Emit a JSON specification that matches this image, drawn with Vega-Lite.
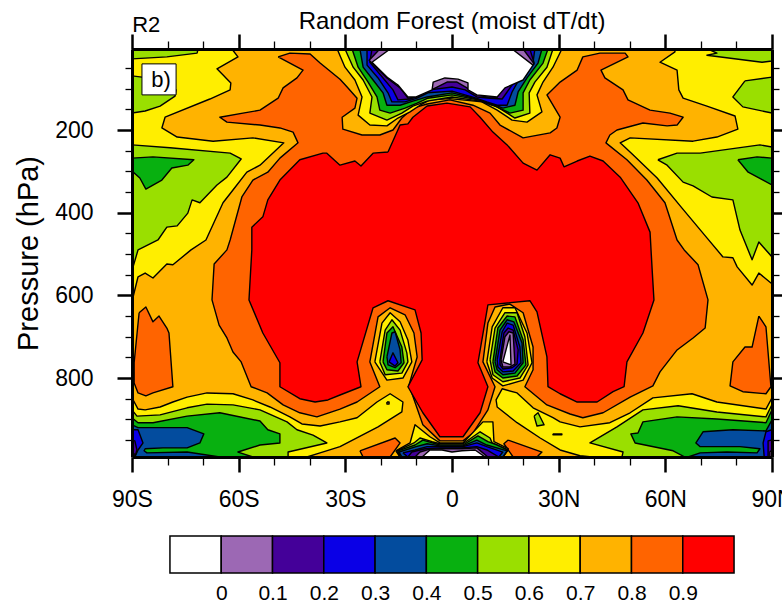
{"$schema":"https://vega.github.io/schema/vega-lite/v6.json","padding":{"left":14,"top":10,"right":0,"bottom":0},"config":{"view":{"stroke":null},"font":"Liberation Sans"},"bounds":"flush","spacing":79,"vconcat":[{"width":640,"height":408,"title":{"text":"Random Forest (moist dT/dt)","fontSize":24,"fontWeight":"normal","anchor":"middle","offset":-20},"resolve":{"axis":{"x":"independent","y":"independent"}},"layer":[{"data":{"values":[
{"g":1,"v":0.75,"lat":-90,"p":4},{"g":1,"v":0.75,"lat":90,"p":4},{"g":1,"v":0.75,"lat":90,"p":991},{"g":1,"v":0.75,"lat":-90,"p":991},
{"g":2,"v":0.85,"lat":-48.9,"p":23},{"g":2,"v":0.85,"lat":-45.6,"p":14},{"g":2,"v":0.85,"lat":-39.9,"p":16},{"g":2,"v":0.85,"lat":-37.1,"p":38},{"g":2,"v":0.85,"lat":-31.5,"p":77},{"g":2,"v":0.85,"lat":-29.5,"p":96},{"g":2,"v":0.85,"lat":-26.7,"p":123},{"g":2,"v":0.85,"lat":-27.3,"p":147},{"g":2,"v":0.85,"lat":-30.9,"p":169},{"g":2,"v":0.85,"lat":-30.7,"p":198},{"g":2,"v":0.85,"lat":-25.3,"p":212},{"g":2,"v":0.85,"lat":-20.3,"p":212},{"g":2,"v":0.85,"lat":-16.6,"p":200},{"g":2,"v":0.85,"lat":-14.1,"p":171},{"g":2,"v":0.85,"lat":-11,"p":147},{"g":2,"v":0.85,"lat":-7,"p":137},{"g":2,"v":0.85,"lat":-0.6,"p":127},{"g":2,"v":0.85,"lat":5.9,"p":140},{"g":2,"v":0.85,"lat":10.7,"p":159},{"g":2,"v":0.85,"lat":13.5,"p":188},{"g":2,"v":0.85,"lat":20,"p":219},{"g":2,"v":0.85,"lat":27.6,"p":207},{"g":2,"v":0.85,"lat":29.5,"p":195},{"g":2,"v":0.85,"lat":30.4,"p":169},{"g":2,"v":0.85,"lat":26.7,"p":115},{"g":2,"v":0.85,"lat":30.4,"p":84},{"g":2,"v":0.85,"lat":35.2,"p":55},{"g":2,"v":0.85,"lat":36.8,"p":23},{"g":2,"v":0.85,"lat":41.6,"p":14},{"g":2,"v":0.85,"lat":48.7,"p":14},{"g":2,"v":0.85,"lat":49.5,"p":23},{"g":2,"v":0.85,"lat":41.9,"p":55},{"g":2,"v":0.85,"lat":43,"p":74},{"g":2,"v":0.85,"lat":48.1,"p":103},{"g":2,"v":0.85,"lat":49.5,"p":127},{"g":2,"v":0.85,"lat":55.7,"p":152},{"g":2,"v":0.85,"lat":61.3,"p":159},{"g":2,"v":0.85,"lat":65,"p":169},{"g":2,"v":0.85,"lat":63.3,"p":188},{"g":2,"v":0.85,"lat":60.5,"p":190},{"g":2,"v":0.85,"lat":53.7,"p":183},{"g":2,"v":0.85,"lat":46.4,"p":200},{"g":2,"v":0.85,"lat":44.4,"p":212},{"g":2,"v":0.85,"lat":43.3,"p":231},{"g":2,"v":0.85,"lat":49.2,"p":272},{"g":2,"v":0.85,"lat":54.8,"p":321},{"g":2,"v":0.85,"lat":59.9,"p":376},{"g":2,"v":0.85,"lat":63.3,"p":466},{"g":2,"v":0.85,"lat":65.3,"p":490},{"g":2,"v":0.85,"lat":69.2,"p":526},{"g":2,"v":0.85,"lat":72,"p":611},{"g":2,"v":0.85,"lat":71.2,"p":679},{"g":2,"v":0.85,"lat":67.8,"p":703},{"g":2,"v":0.85,"lat":63.3,"p":732},{"g":2,"v":0.85,"lat":58.5,"p":785},{"g":2,"v":0.85,"lat":56.5,"p":819},{"g":2,"v":0.85,"lat":50.1,"p":846},{"g":2,"v":0.85,"lat":42.5,"p":884},{"g":2,"v":0.85,"lat":36.8,"p":896},{"g":2,"v":0.85,"lat":33.2,"p":887},{"g":2,"v":0.85,"lat":26.7,"p":865},{"g":2,"v":0.85,"lat":20.5,"p":821},{"g":2,"v":0.85,"lat":22.8,"p":780},{"g":2,"v":0.85,"lat":22.8,"p":725},{"g":2,"v":0.85,"lat":20,"p":642},{"g":2,"v":0.85,"lat":16.3,"p":621},{"g":2,"v":0.85,"lat":12.1,"p":628},{"g":2,"v":0.85,"lat":10.1,"p":667},{"g":2,"v":0.85,"lat":8.7,"p":761},{"g":2,"v":0.85,"lat":12.1,"p":821},{"g":2,"v":0.85,"lat":10.1,"p":877},{"g":2,"v":0.85,"lat":5.9,"p":933},{"g":2,"v":0.85,"lat":3.1,"p":952},{"g":2,"v":0.85,"lat":-3.4,"p":952},{"g":2,"v":0.85,"lat":-8.2,"p":913},{"g":2,"v":0.85,"lat":-12.1,"p":817},{"g":2,"v":0.85,"lat":-9.8,"p":749},{"g":2,"v":0.85,"lat":-10.7,"p":691},{"g":2,"v":0.85,"lat":-13.2,"p":647},{"g":2,"v":0.85,"lat":-17.4,"p":630},{"g":2,"v":0.85,"lat":-20.8,"p":652},{"g":2,"v":0.85,"lat":-23.1,"p":761},{"g":2,"v":0.85,"lat":-20.3,"p":821},{"g":2,"v":0.85,"lat":-26.7,"p":858},{"g":2,"v":0.85,"lat":-31.5,"p":875},{"g":2,"v":0.85,"lat":-38,"p":894},{"g":2,"v":0.85,"lat":-42.8,"p":884},{"g":2,"v":0.85,"lat":-47.5,"p":865},{"g":2,"v":0.85,"lat":-52,"p":836},{"g":2,"v":0.85,"lat":-56.5,"p":821},{"g":2,"v":0.85,"lat":-59.3,"p":761},{"g":2,"v":0.85,"lat":-61.6,"p":737},{"g":2,"v":0.85,"lat":-63.3,"p":703},{"g":2,"v":0.85,"lat":-65.5,"p":672},{"g":2,"v":0.85,"lat":-67.5,"p":611},{"g":2,"v":0.85,"lat":-66.9,"p":524},{"g":2,"v":0.85,"lat":-63.3,"p":490},{"g":2,"v":0.85,"lat":-62.4,"p":466},{"g":2,"v":0.85,"lat":-59.1,"p":362},{"g":2,"v":0.85,"lat":-56,"p":321},{"g":2,"v":0.85,"lat":-51.8,"p":302},{"g":2,"v":0.85,"lat":-48.4,"p":268},{"g":2,"v":0.85,"lat":-43.3,"p":231},{"g":2,"v":0.85,"lat":-44.7,"p":205},{"g":2,"v":0.85,"lat":-48.4,"p":195},{"g":2,"v":0.85,"lat":-54,"p":188},{"g":2,"v":0.85,"lat":-63.3,"p":181},{"g":2,"v":0.85,"lat":-65.3,"p":169},{"g":2,"v":0.85,"lat":-58.8,"p":159},{"g":2,"v":0.85,"lat":-54,"p":152},{"g":2,"v":0.85,"lat":-48.9,"p":123},{"g":2,"v":0.85,"lat":-47.5,"p":98},{"g":2,"v":0.85,"lat":-43.6,"p":74},{"g":2,"v":0.85,"lat":-41.9,"p":55},{"g":2,"v":0.85,"lat":-48.9,"p":23},
{"g":3,"v":0.95,"lat":-18,"p":253},{"g":3,"v":0.95,"lat":-14.6,"p":188},{"g":3,"v":0.95,"lat":-12.4,"p":185},{"g":3,"v":0.95,"lat":-11,"p":169},{"g":3,"v":0.95,"lat":-7,"p":142},{"g":3,"v":0.95,"lat":-1.4,"p":135},{"g":3,"v":0.95,"lat":5.1,"p":144},{"g":3,"v":0.95,"lat":7.9,"p":169},{"g":3,"v":0.95,"lat":11.5,"p":205},{"g":3,"v":0.95,"lat":15.5,"p":236},{"g":3,"v":0.95,"lat":20,"p":280},{"g":3,"v":0.95,"lat":23.9,"p":297},{"g":3,"v":0.95,"lat":27.6,"p":260},{"g":3,"v":0.95,"lat":30.4,"p":268},{"g":3,"v":0.95,"lat":31.5,"p":289},{"g":3,"v":0.95,"lat":35.2,"p":275},{"g":3,"v":0.95,"lat":38.8,"p":263},{"g":3,"v":0.95,"lat":42.5,"p":275},{"g":3,"v":0.95,"lat":47.3,"p":314},{"g":3,"v":0.95,"lat":52.3,"p":376},{"g":3,"v":0.95,"lat":55.7,"p":447},{"g":3,"v":0.95,"lat":56.3,"p":539},{"g":3,"v":0.95,"lat":56.8,"p":611},{"g":3,"v":0.95,"lat":53.7,"p":691},{"g":3,"v":0.95,"lat":49.2,"p":761},{"g":3,"v":0.95,"lat":48.4,"p":821},{"g":3,"v":0.95,"lat":45.3,"p":833},{"g":3,"v":0.95,"lat":40.8,"p":858},{"g":3,"v":0.95,"lat":35.2,"p":858},{"g":3,"v":0.95,"lat":30.4,"p":838},{"g":3,"v":0.95,"lat":27,"p":821},{"g":3,"v":0.95,"lat":26.7,"p":749},{"g":3,"v":0.95,"lat":23.9,"p":640},{"g":3,"v":0.95,"lat":21.9,"p":613},{"g":3,"v":0.95,"lat":10.1,"p":623},{"g":3,"v":0.95,"lat":7.3,"p":763},{"g":3,"v":0.95,"lat":10.1,"p":821},{"g":3,"v":0.95,"lat":7.9,"p":884},{"g":3,"v":0.95,"lat":3.1,"p":942},{"g":3,"v":0.95,"lat":-3.4,"p":942},{"g":3,"v":0.95,"lat":-8.2,"p":884},{"g":3,"v":0.95,"lat":-12.4,"p":821},{"g":3,"v":0.95,"lat":-8.4,"p":756},{"g":3,"v":0.95,"lat":-8.7,"p":691},{"g":3,"v":0.95,"lat":-10.4,"p":635},{"g":3,"v":0.95,"lat":-18,"p":613},{"g":3,"v":0.95,"lat":-22.2,"p":630},{"g":3,"v":0.95,"lat":-26.7,"p":761},{"g":3,"v":0.95,"lat":-25.6,"p":821},{"g":3,"v":0.95,"lat":-31.5,"p":841},{"g":3,"v":0.95,"lat":-34.9,"p":853},{"g":3,"v":0.95,"lat":-38.5,"p":858},{"g":3,"v":0.95,"lat":-42.8,"p":850},{"g":3,"v":0.95,"lat":-48.4,"p":821},{"g":3,"v":0.95,"lat":-48.4,"p":763},{"g":3,"v":0.95,"lat":-53.2,"p":691},{"g":3,"v":0.95,"lat":-57.1,"p":611},{"g":3,"v":0.95,"lat":-56.3,"p":490},{"g":3,"v":0.95,"lat":-56.3,"p":435},{"g":3,"v":0.95,"lat":-53.2,"p":410},{"g":3,"v":0.95,"lat":-51.8,"p":369},{"g":3,"v":0.95,"lat":-48.4,"p":321},{"g":3,"v":0.95,"lat":-42.8,"p":272},{"g":3,"v":0.95,"lat":-36.3,"p":256},{"g":3,"v":0.95,"lat":-35.2,"p":256},{"g":3,"v":0.95,"lat":-31.5,"p":285},{"g":3,"v":0.95,"lat":-27.3,"p":275},{"g":3,"v":0.95,"lat":-25.6,"p":287},{"g":3,"v":0.95,"lat":-22.2,"p":256},{"g":3,"v":0.95,"lat":-18,"p":253},
{"g":4,"v":0.65,"lat":-90,"p":4},{"g":4,"v":0.65,"lat":-61.9,"p":4},{"g":4,"v":0.65,"lat":-60.2,"p":23},{"g":4,"v":0.65,"lat":-66.1,"p":52},{"g":4,"v":0.65,"lat":-62.2,"p":86},{"g":4,"v":0.65,"lat":-62.4,"p":103},{"g":4,"v":0.65,"lat":-68.1,"p":125},{"g":4,"v":0.65,"lat":-80.7,"p":169},{"g":4,"v":0.65,"lat":-81.6,"p":195},{"g":4,"v":0.65,"lat":-77.3,"p":217},{"g":4,"v":0.65,"lat":-67.2,"p":227},{"g":4,"v":0.65,"lat":-56,"p":219},{"g":4,"v":0.65,"lat":-47.3,"p":231},{"g":4,"v":0.65,"lat":-54,"p":285},{"g":4,"v":0.65,"lat":-57.7,"p":302},{"g":4,"v":0.65,"lat":-61.6,"p":345},{"g":4,"v":0.65,"lat":-64.4,"p":376},{"g":4,"v":0.65,"lat":-69.2,"p":466},{"g":4,"v":0.65,"lat":-73.4,"p":490},{"g":4,"v":0.65,"lat":-78.5,"p":526},{"g":4,"v":0.65,"lat":-80.2,"p":524},{"g":4,"v":0.65,"lat":-84.1,"p":558},{"g":4,"v":0.65,"lat":-86.3,"p":546},{"g":4,"v":0.65,"lat":-88.3,"p":555},{"g":4,"v":0.65,"lat":-89.7,"p":604},{"g":4,"v":0.65,"lat":-90,"p":604},
{"g":5,"v":0.55,"lat":-90,"p":4},{"g":5,"v":0.55,"lat":-71.4,"p":4},{"g":5,"v":0.55,"lat":-71.7,"p":14},{"g":5,"v":0.55,"lat":-80.2,"p":23},{"g":5,"v":0.55,"lat":-90,"p":28},
{"g":6,"v":0.55,"lat":-90,"p":69},{"g":6,"v":0.55,"lat":-87.2,"p":72},{"g":6,"v":0.55,"lat":-77.6,"p":103},{"g":6,"v":0.55,"lat":-77.9,"p":118},{"g":6,"v":0.55,"lat":-82.1,"p":142},{"g":6,"v":0.55,"lat":-86.3,"p":154},{"g":6,"v":0.55,"lat":-90,"p":159},
{"g":7,"v":0.55,"lat":-90,"p":236},{"g":7,"v":0.55,"lat":-79.3,"p":243},{"g":7,"v":0.55,"lat":-62.4,"p":256},{"g":7,"v":0.55,"lat":-59.3,"p":270},{"g":7,"v":0.55,"lat":-63.3,"p":314},{"g":7,"v":0.55,"lat":-66.1,"p":333},{"g":7,"v":0.55,"lat":-70.9,"p":376},{"g":7,"v":0.55,"lat":-73.1,"p":369},{"g":7,"v":0.55,"lat":-74.3,"p":401},{"g":7,"v":0.55,"lat":-77.3,"p":432},{"g":7,"v":0.55,"lat":-80.2,"p":435},{"g":7,"v":0.55,"lat":-82.7,"p":466},{"g":7,"v":0.55,"lat":-88.3,"p":490},{"g":7,"v":0.55,"lat":-89.7,"p":531},{"g":7,"v":0.55,"lat":-90,"p":531},
{"g":8,"v":0.45,"lat":-90,"p":268},{"g":8,"v":0.45,"lat":-84.1,"p":265},{"g":8,"v":0.45,"lat":-72.6,"p":272},{"g":8,"v":0.45,"lat":-74.3,"p":285},{"g":8,"v":0.45,"lat":-78.8,"p":292},{"g":8,"v":0.45,"lat":-81.6,"p":321},{"g":8,"v":0.45,"lat":-86.1,"p":343},{"g":8,"v":0.45,"lat":-87.8,"p":316},{"g":8,"v":0.45,"lat":-90,"p":299},
{"g":9,"v":0.65,"lat":90,"p":4},{"g":9,"v":0.65,"lat":62.7,"p":4},{"g":9,"v":0.65,"lat":62.7,"p":11},{"g":9,"v":0.65,"lat":58.5,"p":36},{"g":9,"v":0.65,"lat":63.3,"p":55},{"g":9,"v":0.65,"lat":63.8,"p":103},{"g":9,"v":0.65,"lat":65,"p":123},{"g":9,"v":0.65,"lat":71.7,"p":142},{"g":9,"v":0.65,"lat":79.6,"p":166},{"g":9,"v":0.65,"lat":80.4,"p":198},{"g":9,"v":0.65,"lat":74.5,"p":217},{"g":9,"v":0.65,"lat":67.8,"p":227},{"g":9,"v":0.65,"lat":50.1,"p":219},{"g":9,"v":0.65,"lat":47.3,"p":231},{"g":9,"v":0.65,"lat":50.9,"p":260},{"g":9,"v":0.65,"lat":57.7,"p":316},{"g":9,"v":0.65,"lat":64.7,"p":389},{"g":9,"v":0.65,"lat":71.7,"p":461},{"g":9,"v":0.65,"lat":76.2,"p":507},{"g":9,"v":0.65,"lat":79,"p":509},{"g":9,"v":0.65,"lat":80.2,"p":531},{"g":9,"v":0.65,"lat":84.4,"p":575},{"g":9,"v":0.65,"lat":86.3,"p":546},{"g":9,"v":0.65,"lat":89.7,"p":570},{"g":9,"v":0.65,"lat":90,"p":570},
{"g":10,"v":0.55,"lat":72,"p":4},{"g":10,"v":0.55,"lat":74.5,"p":14},{"g":10,"v":0.55,"lat":71.7,"p":19},{"g":10,"v":0.55,"lat":87.2,"p":36},{"g":10,"v":0.55,"lat":90,"p":33},{"g":10,"v":0.55,"lat":90,"p":4},
{"g":11,"v":0.55,"lat":82.4,"p":81},{"g":11,"v":0.55,"lat":90,"p":72},{"g":11,"v":0.55,"lat":90,"p":159},{"g":11,"v":0.55,"lat":81.8,"p":144},{"g":11,"v":0.55,"lat":79,"p":120},{"g":11,"v":0.55,"lat":82.4,"p":81},
{"g":12,"v":0.55,"lat":57.9,"p":272},{"g":12,"v":0.55,"lat":63.3,"p":256},{"g":12,"v":0.55,"lat":69.8,"p":256},{"g":12,"v":0.55,"lat":86.6,"p":236},{"g":12,"v":0.55,"lat":90,"p":241},{"g":12,"v":0.55,"lat":90,"p":507},{"g":12,"v":0.55,"lat":86.3,"p":471},{"g":12,"v":0.55,"lat":84.4,"p":514},{"g":12,"v":0.55,"lat":81,"p":442},{"g":12,"v":0.55,"lat":79,"p":369},{"g":12,"v":0.55,"lat":73.1,"p":362},{"g":12,"v":0.55,"lat":67.8,"p":335},{"g":12,"v":0.55,"lat":65,"p":326},{"g":12,"v":0.55,"lat":60.5,"p":285},{"g":12,"v":0.55,"lat":57.9,"p":272},
{"g":13,"v":0.45,"lat":80.4,"p":272},{"g":13,"v":0.45,"lat":85.8,"p":265},{"g":13,"v":0.45,"lat":90,"p":268},{"g":13,"v":0.45,"lat":90,"p":333},{"g":13,"v":0.45,"lat":87.5,"p":321},{"g":13,"v":0.45,"lat":83.3,"p":302},{"g":13,"v":0.45,"lat":80.4,"p":272},
{"g":14,"v":0.85,"lat":86.3,"p":650},{"g":14,"v":0.85,"lat":88.3,"p":676},{"g":14,"v":0.85,"lat":89.7,"p":821},{"g":14,"v":0.85,"lat":88.3,"p":838},{"g":14,"v":0.85,"lat":81.8,"p":833},{"g":14,"v":0.85,"lat":78.2,"p":819},{"g":14,"v":0.85,"lat":79,"p":761},{"g":14,"v":0.85,"lat":82.4,"p":725},{"g":14,"v":0.85,"lat":84.4,"p":725},{"g":14,"v":0.85,"lat":86.3,"p":650},
{"g":15,"v":0.85,"lat":-88,"p":642},{"g":15,"v":0.85,"lat":-86.1,"p":628},{"g":15,"v":0.85,"lat":-84.1,"p":664},{"g":15,"v":0.85,"lat":-82.4,"p":650},{"g":15,"v":0.85,"lat":-80.2,"p":679},{"g":15,"v":0.85,"lat":-79.6,"p":691},{"g":15,"v":0.85,"lat":-78.5,"p":821},{"g":15,"v":0.85,"lat":-84.1,"p":836},{"g":15,"v":0.85,"lat":-86.1,"p":843},{"g":15,"v":0.85,"lat":-88.3,"p":836},{"g":15,"v":0.85,"lat":-89.4,"p":812},{"g":15,"v":0.85,"lat":-89.4,"p":763},{"g":15,"v":0.85,"lat":-88,"p":642},
{"g":16,"v":0.65,"lat":-90,"p":848},{"g":16,"v":0.65,"lat":-88.3,"p":875},{"g":16,"v":0.65,"lat":-86.3,"p":877},{"g":16,"v":0.65,"lat":-82.1,"p":870},{"g":16,"v":0.65,"lat":-78.5,"p":858},{"g":16,"v":0.65,"lat":-74.5,"p":846},{"g":16,"v":0.65,"lat":-68.9,"p":836},{"g":16,"v":0.65,"lat":-61.6,"p":838},{"g":16,"v":0.65,"lat":-56,"p":853},{"g":16,"v":0.65,"lat":-51.2,"p":870},{"g":16,"v":0.65,"lat":-45.6,"p":894},{"g":16,"v":0.65,"lat":-42.2,"p":911},{"g":16,"v":0.65,"lat":-37.1,"p":916},{"g":16,"v":0.65,"lat":-31.5,"p":906},{"g":16,"v":0.65,"lat":-26.7,"p":896},{"g":16,"v":0.65,"lat":-21.1,"p":858},{"g":16,"v":0.65,"lat":-17.4,"p":838},{"g":16,"v":0.65,"lat":-13.8,"p":858},{"g":16,"v":0.65,"lat":-14.1,"p":882},{"g":16,"v":0.65,"lat":-20.8,"p":918},{"g":16,"v":0.65,"lat":-31.5,"p":966},{"g":16,"v":0.65,"lat":-37.1,"p":981},{"g":16,"v":0.65,"lat":-40.8,"p":991},{"g":16,"v":0.65,"lat":-90,"p":991},
{"g":17,"v":0.75,"lat":-18.3,"p":858},{"g":17,"v":0.75,"lat":-17.7,"p":858},{"g":17,"v":0.75,"lat":-17.7,"p":863},{"g":17,"v":0.75,"lat":-18.3,"p":863},{"g":17,"v":0.75,"lat":-18.3,"p":858},
{"g":18,"v":0.55,"lat":-90,"p":877},{"g":18,"v":0.55,"lat":-88.6,"p":892},{"g":18,"v":0.55,"lat":-82.1,"p":889},{"g":18,"v":0.55,"lat":-74.5,"p":872},{"g":18,"v":0.55,"lat":-68.9,"p":863},{"g":18,"v":0.55,"lat":-61.6,"p":865},{"g":18,"v":0.55,"lat":-54,"p":877},{"g":18,"v":0.55,"lat":-46.4,"p":906},{"g":18,"v":0.55,"lat":-43.6,"p":925},{"g":18,"v":0.55,"lat":-39.1,"p":938},{"g":18,"v":0.55,"lat":-35.2,"p":957},{"g":18,"v":0.55,"lat":-46.1,"p":979},{"g":18,"v":0.55,"lat":-46.1,"p":991},{"g":18,"v":0.55,"lat":-90,"p":991},
{"g":19,"v":0.45,"lat":-90,"p":896},{"g":19,"v":0.45,"lat":-88.3,"p":908},{"g":19,"v":0.45,"lat":-84.1,"p":908},{"g":19,"v":0.45,"lat":-74.5,"p":892},{"g":19,"v":0.45,"lat":-65.3,"p":884},{"g":19,"v":0.45,"lat":-54,"p":904},{"g":19,"v":0.45,"lat":-51.8,"p":925},{"g":19,"v":0.45,"lat":-48.4,"p":935},{"g":19,"v":0.45,"lat":-48.4,"p":957},{"g":19,"v":0.45,"lat":-54,"p":962},{"g":19,"v":0.45,"lat":-60.2,"p":979},{"g":19,"v":0.45,"lat":-56,"p":991},{"g":19,"v":0.45,"lat":-90,"p":991},
{"g":20,"v":0.35,"lat":-90,"p":913},{"g":20,"v":0.35,"lat":-88.3,"p":920},{"g":20,"v":0.35,"lat":-74.5,"p":920},{"g":20,"v":0.35,"lat":-69.8,"p":935},{"g":20,"v":0.35,"lat":-70.9,"p":957},{"g":20,"v":0.35,"lat":-74.5,"p":969},{"g":20,"v":0.35,"lat":-81.3,"p":969},{"g":20,"v":0.35,"lat":-86.3,"p":971},{"g":20,"v":0.35,"lat":-86.6,"p":976},{"g":20,"v":0.35,"lat":-85.8,"p":981},{"g":20,"v":0.35,"lat":-74.5,"p":979},{"g":20,"v":0.35,"lat":-65.3,"p":991},{"g":20,"v":0.35,"lat":-90,"p":991},
{"g":21,"v":0.25,"lat":-90,"p":925},{"g":21,"v":0.25,"lat":-88.3,"p":925},{"g":21,"v":0.25,"lat":-86.9,"p":957},{"g":21,"v":0.25,"lat":-88.3,"p":974},{"g":21,"v":0.25,"lat":-89.2,"p":991},{"g":21,"v":0.25,"lat":-90,"p":991},
{"g":22,"v":0.15,"lat":-90,"p":950},{"g":22,"v":0.15,"lat":-89.2,"p":952},{"g":22,"v":0.15,"lat":-88.6,"p":974},{"g":22,"v":0.15,"lat":-89.2,"p":991},{"g":22,"v":0.15,"lat":-90,"p":991},
{"g":23,"v":0.05,"lat":-90,"p":979},{"g":23,"v":0.05,"lat":-89.4,"p":983},{"g":23,"v":0.05,"lat":-89.4,"p":991},{"g":23,"v":0.05,"lat":-90,"p":991},
{"g":24,"v":0.65,"lat":90,"p":848},{"g":24,"v":0.65,"lat":88.3,"p":875},{"g":24,"v":0.65,"lat":74.5,"p":858},{"g":24,"v":0.65,"lat":67.5,"p":838},{"g":24,"v":0.65,"lat":56.5,"p":848},{"g":24,"v":0.65,"lat":50.1,"p":884},{"g":24,"v":0.65,"lat":44.4,"p":908},{"g":24,"v":0.65,"lat":36,"p":918},{"g":24,"v":0.65,"lat":30.4,"p":906},{"g":24,"v":0.65,"lat":28.4,"p":896},{"g":24,"v":0.65,"lat":22.8,"p":872},{"g":24,"v":0.65,"lat":18.3,"p":836},{"g":24,"v":0.65,"lat":14.1,"p":826},{"g":24,"v":0.65,"lat":12.4,"p":853},{"g":24,"v":0.65,"lat":12.7,"p":870},{"g":24,"v":0.65,"lat":18.3,"p":908},{"g":24,"v":0.65,"lat":24.8,"p":945},{"g":24,"v":0.65,"lat":30.4,"p":974},{"g":24,"v":0.65,"lat":36,"p":988},{"g":24,"v":0.65,"lat":39.4,"p":991},{"g":24,"v":0.65,"lat":90,"p":991},
{"g":25,"v":0.55,"lat":23.1,"p":892},{"g":25,"v":0.55,"lat":24.2,"p":884},{"g":25,"v":0.55,"lat":25.9,"p":913},{"g":25,"v":0.55,"lat":23.9,"p":916},{"g":25,"v":0.55,"lat":23.1,"p":892},
{"g":26,"v":0.75,"lat":28.4,"p":935},{"g":26,"v":0.75,"lat":30.9,"p":935},{"g":26,"v":0.75,"lat":30.9,"p":937},{"g":26,"v":0.75,"lat":28.4,"p":937},{"g":26,"v":0.75,"lat":28.4,"p":935},
{"g":27,"v":0.55,"lat":90,"p":864},{"g":27,"v":0.55,"lat":88.3,"p":894},{"g":27,"v":0.55,"lat":74.5,"p":882},{"g":27,"v":0.55,"lat":63.6,"p":867},{"g":27,"v":0.55,"lat":53.7,"p":877},{"g":27,"v":0.55,"lat":46.4,"p":918},{"g":27,"v":0.55,"lat":38.8,"p":957},{"g":27,"v":0.55,"lat":48.1,"p":979},{"g":27,"v":0.55,"lat":47.8,"p":991},{"g":27,"v":0.55,"lat":90,"p":991},
{"g":28,"v":0.45,"lat":90,"p":877},{"g":28,"v":0.45,"lat":88.3,"p":908},{"g":28,"v":0.45,"lat":74.5,"p":899},{"g":28,"v":0.45,"lat":63.3,"p":894},{"g":28,"v":0.45,"lat":53.7,"p":906},{"g":28,"v":0.45,"lat":52.3,"p":933},{"g":28,"v":0.45,"lat":50.3,"p":935},{"g":28,"v":0.45,"lat":51.5,"p":957},{"g":28,"v":0.45,"lat":62.2,"p":976},{"g":28,"v":0.45,"lat":65.5,"p":991},{"g":28,"v":0.45,"lat":90,"p":991},
{"g":29,"v":0.35,"lat":90,"p":901},{"g":29,"v":0.35,"lat":88.3,"p":928},{"g":29,"v":0.35,"lat":79,"p":925},{"g":29,"v":0.35,"lat":70.6,"p":930},{"g":29,"v":0.35,"lat":68.6,"p":957},{"g":29,"v":0.35,"lat":69.8,"p":966},{"g":29,"v":0.35,"lat":81,"p":966},{"g":29,"v":0.35,"lat":86.6,"p":971},{"g":29,"v":0.35,"lat":85.8,"p":981},{"g":29,"v":0.35,"lat":77.3,"p":979},{"g":29,"v":0.35,"lat":69.8,"p":981},{"g":29,"v":0.35,"lat":66.4,"p":991},{"g":29,"v":0.35,"lat":90,"p":991},
{"g":30,"v":0.25,"lat":90,"p":925},{"g":30,"v":0.25,"lat":88.3,"p":930},{"g":30,"v":0.25,"lat":87.5,"p":957},{"g":30,"v":0.25,"lat":87.8,"p":991},{"g":30,"v":0.25,"lat":90,"p":991},
{"g":31,"v":0.15,"lat":90,"p":950},{"g":31,"v":0.15,"lat":88.9,"p":952},{"g":31,"v":0.15,"lat":88.9,"p":991},{"g":31,"v":0.15,"lat":90,"p":991},
{"g":32,"v":0.05,"lat":90,"p":974},{"g":32,"v":0.05,"lat":89.4,"p":979},{"g":32,"v":0.05,"lat":89.4,"p":991},{"g":32,"v":0.05,"lat":90,"p":991},
{"g":33,"v":0.85,"lat":-25.9,"p":976},{"g":33,"v":0.85,"lat":-16,"p":945},{"g":33,"v":0.85,"lat":-14.6,"p":957},{"g":33,"v":0.85,"lat":-17.4,"p":991},{"g":33,"v":0.85,"lat":-25,"p":991},{"g":33,"v":0.85,"lat":-25.9,"p":976},
{"g":34,"v":0.85,"lat":15.8,"p":950},{"g":34,"v":0.85,"lat":25.3,"p":979},{"g":34,"v":0.85,"lat":23.9,"p":991},{"g":34,"v":0.85,"lat":17.2,"p":991},{"g":34,"v":0.85,"lat":14.6,"p":959},{"g":34,"v":0.85,"lat":15.8,"p":950},
{"g":35,"v":0.65,"lat":-15.8,"p":976},{"g":35,"v":0.65,"lat":-11.8,"p":957},{"g":35,"v":0.65,"lat":-10.4,"p":913},{"g":35,"v":0.65,"lat":-6.2,"p":942},{"g":35,"v":0.65,"lat":-3.4,"p":957},{"g":35,"v":0.65,"lat":3.1,"p":957},{"g":35,"v":0.65,"lat":8.7,"p":906},{"g":35,"v":0.65,"lat":11.5,"p":906},{"g":35,"v":0.65,"lat":11.8,"p":954},{"g":35,"v":0.65,"lat":15.8,"p":971},{"g":35,"v":0.65,"lat":14.3,"p":991},{"g":35,"v":0.65,"lat":-14.6,"p":991},{"g":35,"v":0.65,"lat":-15.8,"p":976},
{"g":36,"v":0.55,"lat":-15.5,"p":976},{"g":36,"v":0.55,"lat":-10.7,"p":957},{"g":36,"v":0.55,"lat":-9,"p":945},{"g":36,"v":0.55,"lat":-5.6,"p":954},{"g":36,"v":0.55,"lat":-3.4,"p":959},{"g":36,"v":0.55,"lat":3.1,"p":959},{"g":36,"v":0.55,"lat":7.9,"p":930},{"g":36,"v":0.55,"lat":10.7,"p":945},{"g":36,"v":0.55,"lat":11.3,"p":957},{"g":36,"v":0.55,"lat":15.8,"p":974},{"g":36,"v":0.55,"lat":14.3,"p":991},{"g":36,"v":0.55,"lat":-14.6,"p":991},{"g":36,"v":0.55,"lat":-15.5,"p":976},
{"g":37,"v":0.45,"lat":-15.2,"p":976},{"g":37,"v":0.45,"lat":-10.4,"p":962},{"g":37,"v":0.45,"lat":-8.2,"p":950},{"g":37,"v":0.45,"lat":-3.4,"p":962},{"g":37,"v":0.45,"lat":3.1,"p":962},{"g":37,"v":0.45,"lat":7.3,"p":940},{"g":37,"v":0.45,"lat":10.1,"p":954},{"g":37,"v":0.45,"lat":12.7,"p":962},{"g":37,"v":0.45,"lat":15.5,"p":974},{"g":37,"v":0.45,"lat":14.3,"p":991},{"g":37,"v":0.45,"lat":-14.6,"p":991},{"g":37,"v":0.45,"lat":-15.2,"p":976},
{"g":38,"v":0.35,"lat":-14.9,"p":979},{"g":38,"v":0.35,"lat":-10.1,"p":966},{"g":38,"v":0.35,"lat":-7,"p":959},{"g":38,"v":0.35,"lat":-3.4,"p":964},{"g":38,"v":0.35,"lat":3.1,"p":964},{"g":38,"v":0.35,"lat":7,"p":950},{"g":38,"v":0.35,"lat":9.8,"p":962},{"g":38,"v":0.35,"lat":15.5,"p":976},{"g":38,"v":0.35,"lat":14.3,"p":991},{"g":38,"v":0.35,"lat":-14.1,"p":991},{"g":38,"v":0.35,"lat":-14.9,"p":979},
{"g":39,"v":0.25,"lat":-13.8,"p":981},{"g":39,"v":0.25,"lat":-10.4,"p":974},{"g":39,"v":0.25,"lat":-7,"p":966},{"g":39,"v":0.25,"lat":-3.4,"p":966},{"g":39,"v":0.25,"lat":3.1,"p":966},{"g":39,"v":0.25,"lat":7,"p":957},{"g":39,"v":0.25,"lat":9.8,"p":966},{"g":39,"v":0.25,"lat":14.3,"p":979},{"g":39,"v":0.25,"lat":13.2,"p":991},{"g":39,"v":0.25,"lat":-12.4,"p":991},{"g":39,"v":0.25,"lat":-13.8,"p":981},
{"g":40,"v":0.15,"lat":-12.4,"p":991},{"g":40,"v":0.15,"lat":-11.3,"p":979},{"g":40,"v":0.15,"lat":-7.6,"p":971},{"g":40,"v":0.15,"lat":-3.4,"p":969},{"g":40,"v":0.15,"lat":2.8,"p":969},{"g":40,"v":0.15,"lat":7,"p":966},{"g":40,"v":0.15,"lat":9.8,"p":974},{"g":40,"v":0.15,"lat":13.2,"p":991},
{"g":41,"v":0.05,"lat":-10.4,"p":991},{"g":41,"v":0.05,"lat":-9,"p":979},{"g":41,"v":0.05,"lat":-6.2,"p":972},{"g":41,"v":0.05,"lat":-3.4,"p":971},{"g":41,"v":0.05,"lat":2.8,"p":971},{"g":41,"v":0.05,"lat":7,"p":969},{"g":41,"v":0.05,"lat":10.1,"p":991},
{"g":42,"v":-0.05,"lat":-8.4,"p":991},{"g":42,"v":-0.05,"lat":-6.2,"p":974},{"g":42,"v":-0.05,"lat":-2.8,"p":974},{"g":42,"v":-0.05,"lat":0,"p":979},{"g":42,"v":-0.05,"lat":2.8,"p":976},{"g":42,"v":-0.05,"lat":6.5,"p":974},{"g":42,"v":-0.05,"lat":9.3,"p":991},
{"g":43,"v":0.65,"lat":-21.7,"p":761},{"g":43,"v":0.65,"lat":-19.7,"p":667},{"g":43,"v":0.65,"lat":-17.4,"p":642},{"g":43,"v":0.65,"lat":-14.6,"p":664},{"g":43,"v":0.65,"lat":-12.4,"p":708},{"g":43,"v":0.65,"lat":-11.3,"p":761},{"g":43,"v":0.65,"lat":-13.8,"p":800},{"g":43,"v":0.65,"lat":-18.3,"p":805},{"g":43,"v":0.65,"lat":-21.7,"p":761},
{"g":44,"v":0.55,"lat":-20.3,"p":761},{"g":44,"v":0.55,"lat":-18.8,"p":684},{"g":44,"v":0.55,"lat":-16.9,"p":659},{"g":44,"v":0.55,"lat":-14.6,"p":684},{"g":44,"v":0.55,"lat":-12.7,"p":739},{"g":44,"v":0.55,"lat":-12.4,"p":761},{"g":44,"v":0.55,"lat":-14.1,"p":788},{"g":44,"v":0.55,"lat":-18.8,"p":792},{"g":44,"v":0.55,"lat":-20.3,"p":761},
{"g":45,"v":0.45,"lat":-19.4,"p":761},{"g":45,"v":0.45,"lat":-18.3,"p":691},{"g":45,"v":0.45,"lat":-16.6,"p":676},{"g":45,"v":0.45,"lat":-14.1,"p":725},{"g":45,"v":0.45,"lat":-13.5,"p":763},{"g":45,"v":0.45,"lat":-15.2,"p":783},{"g":45,"v":0.45,"lat":-18.3,"p":780},{"g":45,"v":0.45,"lat":-19.4,"p":761},
{"g":46,"v":0.35,"lat":-18.3,"p":749},{"g":46,"v":0.35,"lat":-16.9,"p":691},{"g":46,"v":0.35,"lat":-16,"p":688},{"g":46,"v":0.35,"lat":-14.6,"p":732},{"g":46,"v":0.35,"lat":-14.3,"p":763},{"g":46,"v":0.35,"lat":-16,"p":775},{"g":46,"v":0.35,"lat":-18,"p":768},{"g":46,"v":0.35,"lat":-18.3,"p":749},
{"g":47,"v":0.25,"lat":-17.7,"p":761},{"g":47,"v":0.25,"lat":-16.6,"p":739},{"g":47,"v":0.25,"lat":-15.2,"p":763},{"g":47,"v":0.25,"lat":-16,"p":771},{"g":47,"v":0.25,"lat":-17.7,"p":761},
{"g":48,"v":0.65,"lat":9.8,"p":761},{"g":48,"v":0.65,"lat":11.3,"p":676},{"g":48,"v":0.65,"lat":14.3,"p":630},{"g":48,"v":0.65,"lat":17.7,"p":630},{"g":48,"v":0.65,"lat":21.1,"p":691},{"g":48,"v":0.65,"lat":22.5,"p":763},{"g":48,"v":0.65,"lat":20,"p":805},{"g":48,"v":0.65,"lat":14.3,"p":819},{"g":48,"v":0.65,"lat":11.3,"p":800},{"g":48,"v":0.65,"lat":9.8,"p":761},
{"g":49,"v":0.55,"lat":10.7,"p":756},{"g":49,"v":0.55,"lat":12.1,"p":679},{"g":49,"v":0.55,"lat":14.9,"p":642},{"g":49,"v":0.55,"lat":18.3,"p":642},{"g":49,"v":0.55,"lat":20.5,"p":700},{"g":49,"v":0.55,"lat":21.4,"p":768},{"g":49,"v":0.55,"lat":19.1,"p":800},{"g":49,"v":0.55,"lat":14.3,"p":809},{"g":49,"v":0.55,"lat":11.5,"p":792},{"g":49,"v":0.55,"lat":10.7,"p":756},
{"g":50,"v":0.45,"lat":11.5,"p":761},{"g":50,"v":0.45,"lat":12.9,"p":679},{"g":50,"v":0.45,"lat":15.5,"p":650},{"g":50,"v":0.45,"lat":17.7,"p":652},{"g":50,"v":0.45,"lat":20,"p":708},{"g":50,"v":0.45,"lat":20.8,"p":768},{"g":50,"v":0.45,"lat":18.3,"p":795},{"g":50,"v":0.45,"lat":14.3,"p":800},{"g":50,"v":0.45,"lat":12.1,"p":785},{"g":50,"v":0.45,"lat":11.5,"p":761},
{"g":51,"v":0.35,"lat":12.1,"p":761},{"g":51,"v":0.35,"lat":13.5,"p":684},{"g":51,"v":0.35,"lat":15.5,"p":659},{"g":51,"v":0.35,"lat":17.4,"p":664},{"g":51,"v":0.35,"lat":19.7,"p":715},{"g":51,"v":0.35,"lat":20,"p":763},{"g":51,"v":0.35,"lat":17.7,"p":788},{"g":51,"v":0.35,"lat":14.3,"p":792},{"g":51,"v":0.35,"lat":12.7,"p":780},{"g":51,"v":0.35,"lat":12.1,"p":761},
{"g":52,"v":0.25,"lat":12.7,"p":756},{"g":52,"v":0.25,"lat":14.1,"p":688},{"g":52,"v":0.25,"lat":15.5,"p":667},{"g":52,"v":0.25,"lat":17.2,"p":672},{"g":52,"v":0.25,"lat":19.1,"p":725},{"g":52,"v":0.25,"lat":19.4,"p":763},{"g":52,"v":0.25,"lat":17.2,"p":783},{"g":52,"v":0.25,"lat":14.3,"p":785},{"g":52,"v":0.25,"lat":12.9,"p":773},{"g":52,"v":0.25,"lat":12.7,"p":756},
{"g":53,"v":0.15,"lat":13.5,"p":756},{"g":53,"v":0.15,"lat":14.6,"p":691},{"g":53,"v":0.15,"lat":15.8,"p":679},{"g":53,"v":0.15,"lat":17.2,"p":684},{"g":53,"v":0.15,"lat":18.6,"p":732},{"g":53,"v":0.15,"lat":18.3,"p":766},{"g":53,"v":0.15,"lat":16.9,"p":775},{"g":53,"v":0.15,"lat":14.3,"p":778},{"g":53,"v":0.15,"lat":13.5,"p":768},{"g":53,"v":0.15,"lat":13.5,"p":756},
{"g":54,"v":0.05,"lat":13.8,"p":756},{"g":54,"v":0.05,"lat":14.9,"p":700},{"g":54,"v":0.05,"lat":16,"p":688},{"g":54,"v":0.05,"lat":17.2,"p":691},{"g":54,"v":0.05,"lat":17.7,"p":766},{"g":54,"v":0.05,"lat":16.3,"p":773},{"g":54,"v":0.05,"lat":14.3,"p":773},{"g":54,"v":0.05,"lat":13.8,"p":756},
{"g":55,"v":-0.05,"lat":14.3,"p":761},{"g":55,"v":-0.05,"lat":16.3,"p":696},{"g":55,"v":-0.05,"lat":16.6,"p":768},{"g":55,"v":-0.05,"lat":14.3,"p":761},
{"g":56,"v":0.65,"lat":-32.3,"p":4},{"g":56,"v":0.65,"lat":-30.1,"p":48},{"g":56,"v":0.65,"lat":-27.3,"p":79},{"g":56,"v":0.65,"lat":-25.3,"p":120},{"g":56,"v":0.65,"lat":-26.4,"p":164},{"g":56,"v":0.65,"lat":-23.1,"p":188},{"g":56,"v":0.65,"lat":-18.3,"p":190},{"g":56,"v":0.65,"lat":-15.2,"p":171},{"g":56,"v":0.65,"lat":-11.8,"p":156},{"g":56,"v":0.65,"lat":-9,"p":140},{"g":56,"v":0.65,"lat":-6.2,"p":127},{"g":56,"v":0.65,"lat":-0.6,"p":124},{"g":56,"v":0.65,"lat":8.4,"p":132},{"g":56,"v":0.65,"lat":12.7,"p":152},{"g":56,"v":0.65,"lat":16.9,"p":176},{"g":56,"v":0.65,"lat":21.1,"p":181},{"g":56,"v":0.65,"lat":25.3,"p":156},{"g":56,"v":0.65,"lat":23.9,"p":115},{"g":56,"v":0.65,"lat":25.6,"p":84},{"g":56,"v":0.65,"lat":28.4,"p":48},{"g":56,"v":0.65,"lat":30.9,"p":4},
{"g":57,"v":0.55,"lat":-30.1,"p":4},{"g":57,"v":0.55,"lat":-27.8,"p":48},{"g":57,"v":0.55,"lat":-25,"p":79},{"g":57,"v":0.55,"lat":-22.5,"p":120},{"g":57,"v":0.55,"lat":-23.1,"p":159},{"g":57,"v":0.55,"lat":-18.3,"p":176},{"g":57,"v":0.55,"lat":-14.1,"p":159},{"g":57,"v":0.55,"lat":-11,"p":142},{"g":57,"v":0.55,"lat":-7,"p":130},{"g":57,"v":0.55,"lat":0,"p":120},{"g":57,"v":0.55,"lat":7.9,"p":130},{"g":57,"v":0.55,"lat":12.7,"p":144},{"g":57,"v":0.55,"lat":17.7,"p":171},{"g":57,"v":0.55,"lat":21.9,"p":159},{"g":57,"v":0.55,"lat":21.7,"p":110},{"g":57,"v":0.55,"lat":23.3,"p":84},{"g":57,"v":0.55,"lat":26.7,"p":48},{"g":57,"v":0.55,"lat":28.4,"p":4},
{"g":58,"v":0.45,"lat":-28.1,"p":4},{"g":58,"v":0.45,"lat":-26.4,"p":48},{"g":58,"v":0.45,"lat":-23.6,"p":84},{"g":58,"v":0.45,"lat":-21.1,"p":120},{"g":58,"v":0.45,"lat":-20.3,"p":152},{"g":58,"v":0.45,"lat":-17.4,"p":159},{"g":58,"v":0.45,"lat":-13.2,"p":147},{"g":58,"v":0.45,"lat":-9.8,"p":135},{"g":58,"v":0.45,"lat":-6.8,"p":123},{"g":58,"v":0.45,"lat":0,"p":115},{"g":58,"v":0.45,"lat":7.3,"p":127},{"g":58,"v":0.45,"lat":11.5,"p":140},{"g":58,"v":0.45,"lat":16.3,"p":159},{"g":58,"v":0.45,"lat":20,"p":152},{"g":58,"v":0.45,"lat":20,"p":110},{"g":58,"v":0.45,"lat":21.9,"p":79},{"g":58,"v":0.45,"lat":25.6,"p":38},{"g":58,"v":0.45,"lat":27,"p":4},
{"g":59,"v":0.35,"lat":-25.9,"p":4},{"g":59,"v":0.35,"lat":-25,"p":48},{"g":59,"v":0.35,"lat":-22.2,"p":79},{"g":59,"v":0.35,"lat":-19.4,"p":110},{"g":59,"v":0.35,"lat":-18.3,"p":140},{"g":59,"v":0.35,"lat":-14.6,"p":140},{"g":59,"v":0.35,"lat":-11,"p":130},{"g":59,"v":0.35,"lat":-7,"p":120},{"g":59,"v":0.35,"lat":0,"p":110},{"g":59,"v":0.35,"lat":7,"p":125},{"g":59,"v":0.35,"lat":10.7,"p":135},{"g":59,"v":0.35,"lat":14.3,"p":147},{"g":59,"v":0.35,"lat":17.7,"p":140},{"g":59,"v":0.35,"lat":18.6,"p":108},{"g":59,"v":0.35,"lat":21.1,"p":74},{"g":59,"v":0.35,"lat":24.2,"p":38},{"g":59,"v":0.35,"lat":25.3,"p":4},
{"g":60,"v":0.25,"lat":-23.9,"p":4},{"g":60,"v":0.25,"lat":-23.9,"p":43},{"g":60,"v":0.25,"lat":-20.8,"p":74},{"g":60,"v":0.25,"lat":-18,"p":110},{"g":60,"v":0.25,"lat":-16.9,"p":132},{"g":60,"v":0.25,"lat":-13.2,"p":132},{"g":60,"v":0.25,"lat":-9.8,"p":123},{"g":60,"v":0.25,"lat":-6.8,"p":110},{"g":60,"v":0.25,"lat":0,"p":106},{"g":60,"v":0.25,"lat":6.8,"p":123},{"g":60,"v":0.25,"lat":9.8,"p":132},{"g":60,"v":0.25,"lat":12.7,"p":140},{"g":60,"v":0.25,"lat":15.5,"p":140},{"g":60,"v":0.25,"lat":16.9,"p":108},{"g":60,"v":0.25,"lat":19.1,"p":74},{"g":60,"v":0.25,"lat":22.8,"p":36},{"g":60,"v":0.25,"lat":23.3,"p":4},
{"g":61,"v":0.15,"lat":-22.5,"p":4},{"g":61,"v":0.15,"lat":-23.1,"p":36},{"g":61,"v":0.15,"lat":-19.4,"p":74},{"g":61,"v":0.15,"lat":-16.6,"p":103},{"g":61,"v":0.15,"lat":-15.2,"p":127},{"g":61,"v":0.15,"lat":-11.8,"p":125},{"g":61,"v":0.15,"lat":-9,"p":115},{"g":61,"v":0.15,"lat":-6.2,"p":103},{"g":61,"v":0.15,"lat":0,"p":96},{"g":61,"v":0.15,"lat":3.7,"p":103},{"g":61,"v":0.15,"lat":7,"p":120},{"g":61,"v":0.15,"lat":10.7,"p":123},{"g":61,"v":0.15,"lat":14.1,"p":125},{"g":61,"v":0.15,"lat":15.5,"p":108},{"g":61,"v":0.15,"lat":18.3,"p":74},{"g":61,"v":0.15,"lat":23.1,"p":38},{"g":61,"v":0.15,"lat":21.9,"p":4},
{"g":62,"v":0.05,"lat":-20.3,"p":4},{"g":62,"v":0.05,"lat":-23.3,"p":31},{"g":62,"v":0.05,"lat":-18.3,"p":74},{"g":62,"v":0.05,"lat":-14.6,"p":98},{"g":62,"v":0.05,"lat":-12.4,"p":123},{"g":62,"v":0.05,"lat":-9.8,"p":120},{"g":62,"v":0.05,"lat":-7,"p":108},{"g":62,"v":0.05,"lat":-4.2,"p":96},{"g":62,"v":0.05,"lat":-1.4,"p":84},{"g":62,"v":0.05,"lat":1.4,"p":84},{"g":62,"v":0.05,"lat":4.2,"p":98},{"g":62,"v":0.05,"lat":7,"p":115},{"g":62,"v":0.05,"lat":9.8,"p":120},{"g":62,"v":0.05,"lat":12.7,"p":120},{"g":62,"v":0.05,"lat":14.3,"p":98},{"g":62,"v":0.05,"lat":17.2,"p":84},{"g":62,"v":0.05,"lat":23.1,"p":40},{"g":62,"v":0.05,"lat":20,"p":4},
{"g":63,"v":-0.05,"lat":-17.4,"p":4},{"g":63,"v":-0.05,"lat":-22.5,"p":36},{"g":63,"v":-0.05,"lat":-18,"p":74},{"g":63,"v":-0.05,"lat":-15.2,"p":91},{"g":63,"v":-0.05,"lat":-12.4,"p":120},{"g":63,"v":-0.05,"lat":-10.1,"p":120},{"g":63,"v":-0.05,"lat":-5.6,"p":103},{"g":63,"v":-0.05,"lat":-5.3,"p":84},{"g":63,"v":-0.05,"lat":-2,"p":74},{"g":63,"v":-0.05,"lat":1.7,"p":77},{"g":63,"v":-0.05,"lat":4.5,"p":86},{"g":63,"v":-0.05,"lat":4.5,"p":103},{"g":63,"v":-0.05,"lat":7,"p":115},{"g":63,"v":-0.05,"lat":12.7,"p":120},{"g":63,"v":-0.05,"lat":14.9,"p":98},{"g":63,"v":-0.05,"lat":20,"p":79},{"g":63,"v":-0.05,"lat":22.8,"p":43},{"g":63,"v":-0.05,"lat":16.9,"p":4}
]},"mark":{"type":"line","order":false,"stroke":"black","strokeWidth":1.4,"clip":true,"strokeJoin":"round"},"encoding":{"x":{"field":"lat","type":"quantitative","scale":{"domain":[-90,90],"nice":false,"zero":false},"axis":{"orient":"bottom","title":null,"grid":false,"zindex":1,"values":[-90,-80,-70,-60,-50,-40,-30,-20,-10,0,10,20,30,40,50,60,70,80,90],"labelExpr":"datum.value==0?'0':datum.value%30!=0?'':datum.value<0?(-datum.value)+'S':datum.value+'N'","labelFontSize":23,"labelColor":"black","labelPadding":16,"labelOverlap":false,"labelFlush":false,"labelBound":false,"domainColor":"black","domainWidth":3,"tickColor":"black","tickSize":{"condition":{"test":"datum.value%30==0","value":15},"value":8},"tickWidth":{"condition":{"test":"datum.value%30==0","value":2.5},"value":1.3}}},"y":{"field":"p","type":"quantitative","scale":{"domain":[4,991],"reverse":true,"nice":false,"zero":false},"axis":{"orient":"left","title":"Pressure (hPa)","titleFontSize":29,"titleFontWeight":"normal","titleColor":"black","titlePadding":11,"grid":false,"zindex":1,"values":[50,100,150,200,250,300,350,400,450,500,550,600,650,700,750,800,850,900,950],"labelExpr":"datum.value%200==0?datum.value+'':''","labelFontSize":23,"labelColor":"black","labelPadding":24,"labelOverlap":false,"labelBound":false,"labelFlush":false,"domainColor":"black","domainWidth":3,"tickColor":"black","tickSize":{"condition":{"test":"datum.value%200==0","value":15},"value":7},"tickWidth":{"condition":{"test":"datum.value%200==0","value":2.5},"value":1.3}}},"detail":{"field":"g"},"fill":{"field":"v","type":"quantitative","legend":null,"scale":{"type":"threshold","domain":[0,0.1,0.2,0.3,0.4,0.5,0.6,0.7,0.8,0.9],"range":["#FFFFFF","#9C68B4","#440099","#0A00E6","#034C9E","#08B010","#9ADF00","#FFEE00","#FFB300","#FF6400","#FF0000"]}}}},{"data":{"values":[{"lat":-87.2,"lat2":-77.6,"p":40,"p2":115}]},"mark":{"type":"rect","fill":"white","stroke":"black","strokeWidth":1},"encoding":{"x":{"field":"lat","type":"quantitative","axis":{"orient":"top","title":null,"grid":false,"zindex":1,"values":[-90,-80,-70,-60,-50,-40,-30,-20,-10,0,10,20,30,40,50,60,70,80,90],"labels":false,"domainColor":"black","domainWidth":3,"tickColor":"black","tickSize":{"condition":{"test":"datum.value%30==0","value":15},"value":8},"tickWidth":{"condition":{"test":"datum.value%30==0","value":2.5},"value":1.3}}},"x2":{"field":"lat2"},"y":{"field":"p","type":"quantitative","axis":{"orient":"right","title":null,"grid":false,"zindex":1,"values":[50,100,150,200,250,300,350,400,450,500,550,600,650,700,750,800,850,900,950],"labels":false,"domainColor":"black","domainWidth":3,"tickColor":"black","tickSize":{"condition":{"test":"datum.value%200==0","value":15},"value":7},"tickWidth":{"condition":{"test":"datum.value%200==0","value":2.5},"value":1.3}}},"y2":{"field":"p2"}}},{"data":{"values":[{"lat":-81.8,"p":78,"t":"b)","s":22},{"lat":-86,"p":-54,"t":"R2","s":22}]},"mark":{"type":"text","baseline":"middle","color":"black","clip":false},"encoding":{"x":{"field":"lat","type":"quantitative","axis":null},"y":{"field":"p","type":"quantitative","axis":null},"text":{"field":"t"},"size":{"field":"s","type":"quantitative","scale":null}}}]},{"width":640,"height":37,"data":{"values":[{"lo":-0.1,"hi":0,"v":-0.05},{"lo":0,"hi":0.1,"v":0.05},{"lo":0.1,"hi":0.2,"v":0.15},{"lo":0.2,"hi":0.3,"v":0.25},{"lo":0.3,"hi":0.4,"v":0.35},{"lo":0.4,"hi":0.5,"v":0.45},{"lo":0.5,"hi":0.6,"v":0.55},{"lo":0.6,"hi":0.7,"v":0.65},{"lo":0.7,"hi":0.8,"v":0.75},{"lo":0.8,"hi":0.9,"v":0.85},{"lo":0.9,"hi":1,"v":0.95}]},"mark":{"type":"rect","stroke":"black","strokeWidth":1.5},"encoding":{"x":{"field":"lo","type":"quantitative","scale":{"domain":[-0.174,1.074],"nice":false,"zero":false},"axis":{"title":null,"grid":false,"domain":false,"ticks":false,"values":[0,0.1,0.2,0.3,0.4,0.5,0.6,0.7,0.8,0.9],"format":"~g","labelFontSize":21,"labelColor":"black","labelPadding":9,"labelOverlap":false}},"x2":{"field":"hi"},"fill":{"field":"v","type":"quantitative","legend":null,"scale":{"type":"threshold","domain":[0,0.1,0.2,0.3,0.4,0.5,0.6,0.7,0.8,0.9],"range":["#FFFFFF","#9C68B4","#440099","#0A00E6","#034C9E","#08B010","#9ADF00","#FFEE00","#FFB300","#FF6400","#FF0000"]}}}}]}
